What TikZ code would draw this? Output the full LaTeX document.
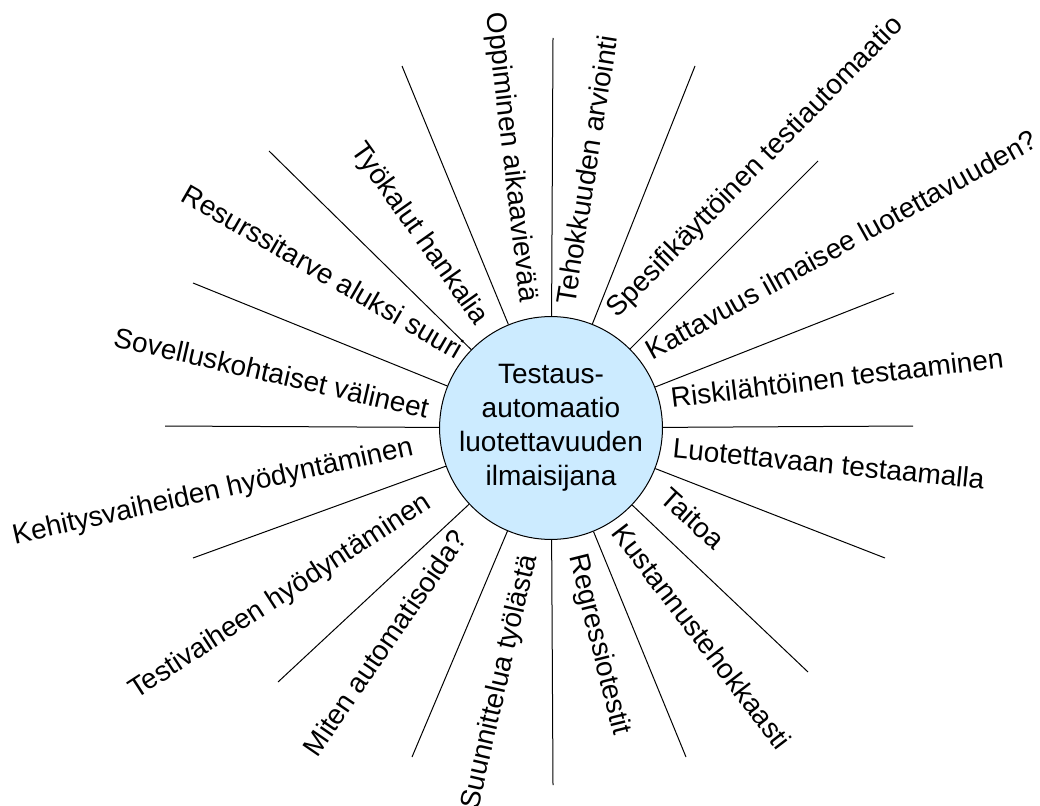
\documentclass[tikz,border=0pt]{standalone}
\usepackage{fontspec}
\setmainfont{Liberation Sans}
\definecolor{hubblue}{RGB}{204,235,255}
\newcommand{\labelfont}{\fontsize{28}{34}\selectfont}
\tikzset{
  spoke/.style={draw=black, line width=1pt},
  hub/.style={circle, draw=black, line width=1pt, fill=hubblue,
    minimum size=216pt, inner sep=0pt, align=center, font=\labelfont},
  lab/.style={font=\labelfont, inner sep=0pt, anchor=center,
    text height=0.75em, text depth=0.25em}
}
\begin{document}
\begin{tikzpicture}[x=1pt, y=-1pt]
\path[use as bounding box] (0,0) rectangle (1040,805);
\clip (0,0) rectangle (1040,805);

% outer ends of the spokes
\coordinate (e90)    at (553,38);
\coordinate (e675)   at (695,66);
\coordinate (e45)    at (818,161);
\coordinate (e225)   at (894,293);
\coordinate (e0)     at (913,426);
\coordinate (em225)  at (885,558);
\coordinate (em45)   at (808,672);
\coordinate (em675)  at (686,757);
\coordinate (em90)   at (553,785);
\coordinate (em1125) at (412,757);
\coordinate (em135)  at (278,682);
\coordinate (em1575) at (193,558);
\coordinate (e180)   at (165,426);
\coordinate (e1575)  at (193,283);
\coordinate (e135)   at (269,151);
\coordinate (e1125)  at (402,66);

% central topic
\node[hub] (hub) at (551,428) {Testaus-\\automaatio\\luotettavuuden\\ilmaisijana};

% spokes
\foreach \e in {e90,e675,e45,e225,e0,em225,em45,em675,em90,em1125,em135,em1575,e180,e1575,e135,e1125}
  \draw[spoke] (hub) -- (\e);

% labels between the spokes
\node[lab, rotate=-83.4] (l1)  at (506,158) {Oppiminen aikaavievää};
\node[lab, rotate=81]    (l2)  at (594,171) {Tehokkuuden arviointi};
\node[lab, rotate=45.5]  (l3)  at (759,171) {Spesifikäyttöinen testiautomaatio};
\node[lab, rotate=29]    (l4)  at (845,251) {Kattavuus ilmaisee luotettavuuden?};
\node[lab, rotate=6.9]   (l5)  at (838,385) {Riskilähtöinen testaaminen};
\node[lab, rotate=-5.7]  (l6)  at (828,471) {Luotettavaan testaamalla};
\node[lab, rotate=-42]   (l7)  at (688,524) {Taitoa};
\node[lab, rotate=-52.6] (l8)  at (696,641) {Kustannustehokkaasti};
\node[lab, rotate=-76]   (l9)  at (594,646) {Regressiotestit};
\node[lab, rotate=77]    (l10) at (505,683) {Suunnittelua työlästä};
\node[lab, rotate=55.6]  (l11) at (391,647) {Miten automatisoida?};
\node[lab, rotate=33]    (l12) at (283,601) {Testivaiheen hyödyntäminen};
\node[lab, rotate=12.6]  (l13) at (214,497) {Kehitysvaiheiden hyödyntäminen};
\node[lab, rotate=-13]   (l14) at (270,380) {Sovelluskohtaiset välineet};
\node[lab, rotate=-30]   (l15) at (319,278) {Resurssitarve aluksi suuri};
\node[lab, rotate=-54.7] (l16) at (415,237) {Työkalut hankalia};
\end{tikzpicture}
\end{document}
